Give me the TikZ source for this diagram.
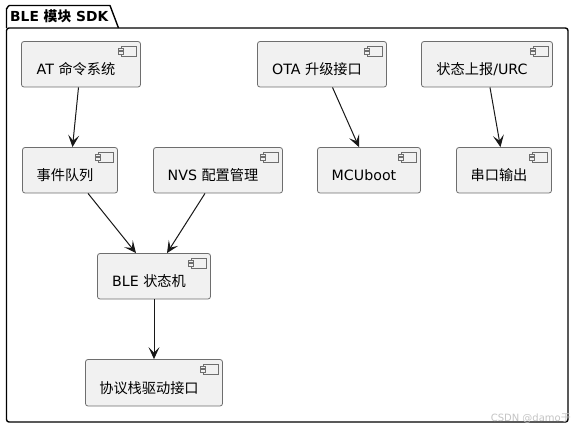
\documentclass[tikz,border=0pt]{standalone}
\usepackage{fontspec}
\usetikzlibrary{arrows.meta,calc}
\setmainfont{DejaVu Sans}
\newfontfamily\cjk{Noto Sans CJK SC}
\newcommand{\zh}[1]{{\cjk #1}}
\definecolor{boxfill}{HTML}{F1F1F1}
\definecolor{boxline}{HTML}{6E6E6E}
\definecolor{linkline}{HTML}{181818}
\definecolor{wm}{HTML}{C4C4C4}
\newcommand{\lbl}[1]{\raisebox{-10.5pt}[0pt][0pt]{#1}\kern10pt}
\tikzset{
  x=1pt,y=-1pt,
  comp/.style={draw=boxline,fill=boxfill,line width=0.8pt,rounded corners=2.5pt,inner sep=0pt,
    font=\fontsize{14.2}{16}\selectfont,text=black},
  icon/.style={draw=boxline,fill=boxfill,line width=0.7pt},
  link/.style={draw=linkline,line width=1pt,-{Stealth[length=12pt,width=11pt,inset=5.5pt]}},
  pkg/.style={draw=black,line width=1.4pt,line join=round}
}
\newcommand{\compicon}[1]{%
  \draw[icon] ($(#1.north east)+(-20,5)$) rectangle ($(#1.north east)+(-5,15)$);
  \draw[icon] ($(#1.north east)+(-22.5,7)$) rectangle ($(#1.north east)+(-17.5,9.5)$);
  \draw[icon] ($(#1.north east)+(-22.5,10.5)$) rectangle ($(#1.north east)+(-17.5,13)$);
}
\newcommand{\compbox}[6]{% name, x0, y0, x1, y1, text
  \node[comp,minimum width={(#4-#2)*1pt},minimum height={(#5-#3)*1pt}] (#1) at ({(#2+#4)/2},{(#3+#5)/2}) {\lbl{#6}};
  \compicon{#1}
}
\begin{document}
\begin{tikzpicture}
\useasboundingbox (0,0) rectangle (574,428);
\fill[white] (0,0) rectangle (574,428);
\draw[pkg,rounded corners=0pt] (6.5,28) -- (6.5,8.5) to[out=-90,in=180] (9.5,5.5) -- (110,5.5) -- (118.5,28);
\draw[pkg,rounded corners=2.5pt] (6.5,28) -- (6.5,422) -- (568,422) -- (568,28) -- cycle;
\node[anchor=base west,inner sep=0pt,font=\fontsize{13.8}{15}\selectfont\bfseries] (title) at (10,22) {BLE \zh{\bfseries 模块} SDK};

\compbox{at}{21.5}{41.5}{140.5}{87}{AT \zh{命令系统}}
\compbox{ota}{257.5}{41.5}{386.5}{87}{OTA \zh{升级接口}}
\compbox{urc}{421.5}{41.5}{552.5}{87}{\zh{状态上报}/URC}
\compbox{queue}{22.5}{147.5}{117.5}{193}{\zh{事件队列}}
\compbox{nvs}{153.5}{147.5}{282.5}{193}{NVS \zh{配置管理}}
\compbox{mcu}{317.5}{147.5}{420.5}{193}{MCUboot}
\compbox{uart}{456.5}{147.5}{551.5}{193}{\zh{串口输出}}
\compbox{ble}{97.5}{253.5}{210.5}{299}{BLE \zh{状态机}}
\compbox{drv}{85.5}{359.5}{222.5}{406}{\zh{协议栈驱动接口}}

\draw[link] ([xshift=-2.5pt]at.south) -- ([xshift=2.5pt]queue.north);
\draw[link] ([xshift=18pt]queue.south) -- ([xshift=-18pt]ble.north);
\draw[link] ([xshift=-13pt]nvs.south) -- ([xshift=13pt]ble.north);
\draw[link] (ble.south) -- (drv.north);
\draw[link] ([xshift=10.5pt]ota.south) -- ([xshift=-10pt]mcu.north);
\draw[link] ([xshift=3pt]urc.south) -- ([xshift=-3.5pt]uart.north);

\node[anchor=base east,inner sep=0pt,text=wm,font=\fontsize{10}{12}\selectfont] (mark) at (571,421) {CSDN @damo\zh{于}};
\end{tikzpicture}
\end{document}
